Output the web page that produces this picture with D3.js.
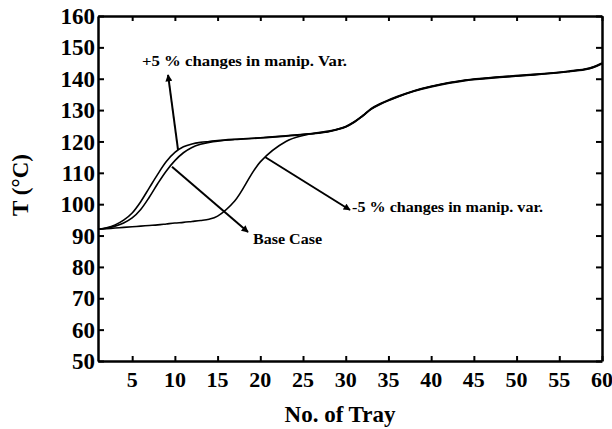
<!DOCTYPE html>
<html>
<head>
<meta charset="utf-8">
<script src="https://cdn.jsdelivr.net/npm/d3@7"></script>
<style>
  body { margin: 0; background: #fff; }
</style>
</head>
<body>
<svg id="canvas"></svg>
<script>
// temperature profile along the column, three cases

let trays = [1, 2, 3, 4, 5, 6, 7, 8, 9, 10, 11, 12, 13, 14, 15, 17, 20, 23, 25, 27, 28, 30, 31, 32, 33, 34, 36, 38, 40, 44, 48, 52, 56, 58, 59, 60];

let plusFive = [92, 92.5, 93.4, 94.9, 97.2, 100.8, 105.2, 109.6, 113.6, 116.5, 118.3, 119.2, 119.7, 120.0, 120.3, 120.7, 121.2, 121.8, 122.3, 122.8, 123.2, 124.8, 126.3, 128.3, 130.5, 132.0, 134.3, 136.2, 137.6, 139.6, 140.6, 141.4, 142.4, 143.1, 143.8, 145];
let baseCase = [92, 92.3, 93.0, 94.0, 95.6, 98.3, 102.2, 106.6, 110.6, 113.9, 116.4, 118.1, 119.1, 119.7, 120.1, 120.6, 121.1, 121.7, 122.2, 122.7, 123.1, 124.6, 126.1, 128.1, 130.3, 131.8, 134.1, 136.0, 137.4, 139.4, 140.4, 141.2, 142.2, 142.9, 143.6, 144.8];
let minusFive = [92, 92.2, 92.4, 92.6, 92.8, 93.0, 93.2, 93.4, 93.7, 94.0, 94.2, 94.5, 94.8, 95.2, 96.2, 101.0, 113.5, 120.0, 121.9, 122.9, 123.3, 124.7, 126.2, 128.2, 130.4, 131.9, 134.2, 136.1, 137.5, 139.5, 140.5, 141.3, 142.3, 143.0, 143.7, 144.9];

let yTicks = [50, 60, 70, 80, 90, 100, 110, 120, 130, 140, 150, 160];
let xTicks = [5, 10, 15, 20, 25, 30, 35, 40, 45, 50, 55, 60];

// annotation labels and arrows, in data units (tray, temperature)
let noteText = ['+5 % changes in manip. Var.', 'Base Case', '-5 % changes in manip. var.'];
let notePos = [[6.15, 144.1], [19.15, 87.3], [30.75, 97.5]];
let arrowFrom = [[10.37, 117.3], [9.66, 111.9], [20.55, 115.05]];
let arrowTo = [[9.2, 141.2], [18.56, 91.1], [30.5, 98.15]];

let width = 612;
let height = 429;
let mLeft = 98, mRight = 602, mTop = 16, mBottom = 361;
let font = "'Times New Roman', 'Liberation Serif', Times, serif";

const canvas = d3.select('#canvas').attr('width', width).attr('height', height)
    .attr('font-family', font).attr('font-weight', 'bold');

const x = d3.scaleLinear().domain([1, 60]).range([mLeft, mRight]);
const y = d3.scaleLinear().domain([50, 160]).range([mBottom, mTop]);

canvas.append('defs').append('marker')
    .attr('id', 'head')
    .attr('viewBox', '0 0 10 10')
    .attr('refX', 9).attr('refY', 5)
    .attr('markerWidth', 10).attr('markerHeight', 7)
    .attr('markerUnits', 'userSpaceOnUse')
    .attr('orient', 'auto')
    .append('path').attr('d', 'M0,0 L10,5 L0,10 z').attr('fill', '#000');

// curves
const line = d3.line()
    .x((d) => x(d[0]))
    .y((d) => y(d[1]))
    .curve(d3.curveCatmullRom.alpha(0.5));

[plusFive, baseCase, minusFive].forEach((s) => {
    canvas.append('path')
        .datum(trays.map((t, i) => [t, s[i]]))
        .attr('d', line)
        .attr('fill', 'none')
        .attr('stroke', '#000')
        .attr('stroke-width', 1.6);
});

// axes, ticks pointing inwards
const styleAxis = (g) => {
    g.select('.domain').attr('stroke-width', 2.5);
    g.selectAll('.tick line').attr('stroke-width', 2);
    g.selectAll('.tick text').remove();
};

canvas.append('g').attr('transform', `translate(${mLeft},0)`)
    .call(d3.axisLeft(y).tickValues(yTicks).tickSize(-6).tickSizeOuter(0)).call(styleAxis);
canvas.append('g').attr('transform', `translate(${mRight},0)`)
    .call(d3.axisRight(y).tickValues(yTicks).tickSize(-6).tickSizeOuter(0)).call(styleAxis);
canvas.append('g').attr('transform', `translate(0,${mBottom})`)
    .call(d3.axisBottom(x).tickValues(xTicks).tickSize(-5).tickSizeOuter(0)).call(styleAxis);
canvas.append('g').attr('transform', `translate(0,${mTop})`)
    .call(d3.axisTop(x).tickValues(xTicks).tickSize(-5).tickSizeOuter(0)).call(styleAxis);

// tick labels
canvas.selectAll('.ylab').data(yTicks).enter().append('text')
    .attr('x', mLeft - 3)
    .attr('y', (d) => y(d))
    .attr('dy', '0.35em')
    .attr('text-anchor', 'end')
    .attr('font-size', 23)
    .text((d) => d);

canvas.selectAll('.xlab').data(xTicks).enter().append('text')
    .attr('x', (d) => x(d))
    .attr('y', mBottom + 26)
    .attr('text-anchor', 'middle')
    .attr('font-size', 22)
    .text((d) => d);

// axis titles
canvas.append('text')
    .attr('x', 340).attr('y', 422)
    .attr('text-anchor', 'middle')
    .attr('font-size', 23)
    .text('No. of Tray');

canvas.append('text')
    .attr('transform', 'translate(28,185) rotate(-90)')
    .attr('text-anchor', 'middle')
    .attr('font-size', 23)
    .text('T (°C)');

// annotations
arrowFrom.forEach((p, i) => {
    canvas.append('line')
        .attr('x1', x(p[0])).attr('y1', y(p[1]))
        .attr('x2', x(arrowTo[i][0])).attr('y2', y(arrowTo[i][1]))
        .attr('stroke', '#000')
        .attr('stroke-width', 2)
        .attr('marker-end', 'url(#head)');
});

let noteWidth = [205, 69, 191];
canvas.selectAll('.note').data(noteText).enter().append('text')
    .attr('x', (d, i) => x(notePos[i][0]))
    .attr('y', (d, i) => y(notePos[i][1]))
    .attr('textLength', (d, i) => noteWidth[i])
    .attr('lengthAdjust', 'spacingAndGlyphs')
    .attr('font-size', 14)
    .text((d) => d);
</script>
</body>
</html>
